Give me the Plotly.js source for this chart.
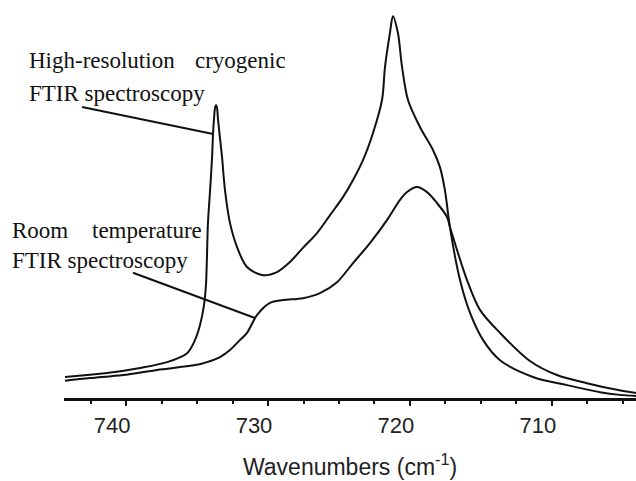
<!DOCTYPE html>
<html>
<head>
<meta charset="utf-8">
<script src="https://cdn.plot.ly/plotly-3.0.1.min.js"></script>
<style>html,body{margin:0;padding:0;background:#fff;}#chart{width:636px;height:481px;}</style>
</head>
<body>
<div id="chart"></div>
<script>
// Wavenumber (cm-1) and absorbance (arbitrary units)
var cryoWavenumber = [744.30, 743.73, 741.34, 739.01, 737.11, 735.70, 735.14, 734.79, 734.51, 734.37,
  734.30, 734.23, 734.08, 733.94, 733.87, 733.80, 733.73, 733.66, 733.59, 733.52,
  733.24, 733.03, 732.68, 732.18, 731.48, 730.35, 729.37, 728.45, 727.54, 726.55,
  725.63, 724.72, 724.01, 723.31, 722.61, 721.97, 721.76, 721.41, 721.20, 720.85,
  720.56, 720.14, 719.30, 718.38, 717.89, 717.54, 717.18, 716.48, 715.77, 714.86,
  713.66, 711.34, 708.94, 706.62, 705.21, 704.08];
var cryoAbsorbance = [0.054, 0.056, 0.064, 0.077, 0.092, 0.115, 0.149, 0.187, 0.238, 0.290,
  0.362, 0.449, 0.533, 0.618, 0.679, 0.718, 0.744, 0.751, 0.744, 0.713,
  0.618, 0.533, 0.449, 0.387, 0.336, 0.315, 0.323, 0.349, 0.385, 0.423,
  0.469, 0.515, 0.559, 0.610, 0.679, 0.764, 0.849, 0.936, 0.979, 0.936,
  0.849, 0.764, 0.695, 0.636, 0.592, 0.533, 0.436, 0.303, 0.218, 0.149,
  0.097, 0.054, 0.033, 0.015, 0.008, 0.005];

var roomWavenumber = [744.30, 742.54, 740.21, 737.82, 735.00, 734.30, 733.38, 732.68, 731.97, 731.48,
  730.77, 729.86, 728.94, 727.54, 726.34, 725.14, 724.01, 722.82, 721.62, 720.70,
  720.21, 719.51, 718.80, 718.10, 717.39, 717.18, 715.99, 715.07, 713.66, 711.55,
  709.65, 707.54, 705.42, 704.08];
var roomAbsorbance = [0.044, 0.051, 0.059, 0.072, 0.085, 0.092, 0.105, 0.123, 0.149, 0.167,
  0.213, 0.244, 0.251, 0.256, 0.269, 0.297, 0.346, 0.397, 0.456, 0.508,
  0.528, 0.541, 0.528, 0.500, 0.464, 0.438, 0.303, 0.226, 0.167, 0.095,
  0.059, 0.038, 0.021, 0.013];

var tickValues = [740, 730, 720, 710];
var tickLabels = ['740', '730', '720', '710'];

var W = 636, H = 481, ML = 64, MR = 0, MT = 8, MB = 83;
var PW = W - ML - MR, PH = H - MT - MB;
function px(x) { return (x - ML) / PW; }
function py(y) { return (H - MB - y) / PH; }

var serif = {family: 'Liberation Serif, Times New Roman, serif', size: 23, color: '#111'};
function note(text, x, y, anchor) {
  return {text: text, xref: 'paper', yref: 'paper', x: px(x), y: py(y),
    xanchor: anchor, yanchor: 'middle', showarrow: false, font: serif, borderpad: 0};
}

var traces = [
  {x: cryoWavenumber, y: cryoAbsorbance, type: 'scatter', mode: 'lines',
   line: {color: '#111', width: 2, shape: 'spline', smoothing: 0.9}, hoverinfo: 'skip'},
  {x: roomWavenumber, y: roomAbsorbance, type: 'scatter', mode: 'lines',
   line: {color: '#111', width: 2, shape: 'spline', smoothing: 0.9}, hoverinfo: 'skip'}
];

var layout = {
  width: W, height: H,
  margin: {l: ML, r: MR, t: MT, b: MB, pad: 0},
  paper_bgcolor: '#fff', plot_bgcolor: '#fff',
  showlegend: false,
  xaxis: {
    range: [744.37, 704.08], autorange: false,
    showgrid: false, zeroline: false,
    showline: true, linecolor: '#111', linewidth: 3,
    ticks: 'outside', ticklen: 5, tickwidth: 2, tickcolor: '#111',
    tickmode: 'array', tickvals: tickValues, ticktext: tickLabels,
    ticklabelshift: 14, ticklabelstandoff: 1,
    tickfont: {family: 'Liberation Sans, Arial, sans-serif', size: 22, color: '#222'},
    minor: {tickmode: 'linear', tick0: 740, dtick: 2.5, ticks: 'outside', ticklen: 3, tickwidth: 2, tickcolor: '#111', showgrid: false},
    title: {text: 'Wavenumbers (cm<sup>-1</sup>)', standoff: 22,
      font: {family: 'Liberation Sans, Arial, sans-serif', size: 23, color: '#222'}}
  },
  yaxis: {range: [0, 1], autorange: false, visible: false, showgrid: false, zeroline: false},
  annotations: [
    note('High-resolution', 28, 61, 'left'),
    note('cryogenic', 287, 61, 'right'),
    note('FTIR spectroscopy', 28, 93, 'left'),
    note('Room', 11, 230, 'left'),
    note('temperature', 203, 230, 'right'),
    note('FTIR spectroscopy', 11, 260, 'left')
  ],
  shapes: [
    {type: 'line', xref: 'x', yref: 'y', x0: 743.10, y0: 0.746, x1: 733.87, y1: 0.677, line: {color: '#111', width: 2}},
    {type: 'line', xref: 'x', yref: 'y', x0: 739.51, y0: 0.321, x1: 730.92, y1: 0.205, line: {color: '#111', width: 2}}
  ]
};

Plotly.newPlot('chart', traces, layout, {staticPlot: true, displayModeBar: false});
</script>
</body>
</html>
